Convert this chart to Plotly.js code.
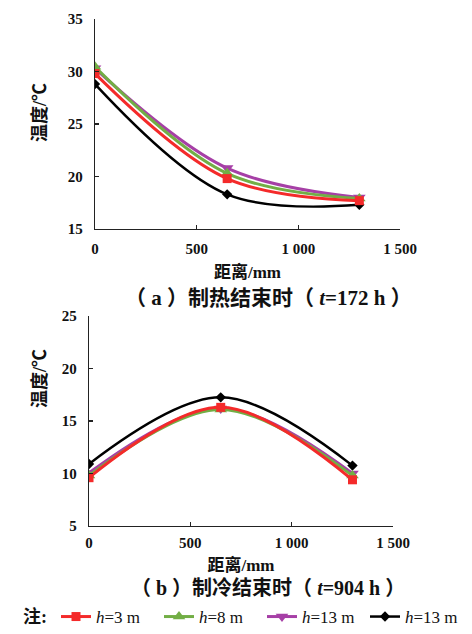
<!DOCTYPE html>
<html>
<head>
<meta charset="utf-8">
<script src="https://cdn.plot.ly/plotly-3.0.1.min.js"></script>
<style>html,body{margin:0;padding:0;background:#fff;}#chart{width:472px;height:634px;}</style>
</head>
<body>
<div id="chart"></div>
<script>
// Data
const distance = [0, 650, 1300];
const seriesNames = ['<i>h</i>=3 m', '<i>h</i>=8 m', '<i>h</i>=13 m', '<i>h</i>=13 m'];
const heatingH3 = [29.8, 19.8, 17.7];
const heatingH8 = [30.45, 20.3, 17.9];
const heatingH13a = [30.3, 20.8, 18.0];
const heatingH13b = [28.8, 18.3, 17.3];
const coolingH3 = [9.6, 16.3, 9.4];
const coolingH8 = [9.8, 16.1, 9.8];
const coolingH13a = [10.05, 16.2, 10.0];
const coolingH13b = [10.9, 17.25, 10.75];
const xTickVals = [0, 500, 1000, 1500];
const xTickText = ['0', '500', '1 000', '1 500'];
const yTopTicks = [15, 20, 25, 30, 35];
const yBotTicks = [5, 10, 15, 20, 25];

const serif = "Liberation Serif, Noto Sans CJK SC";
const colors = ['#f42a2a', '#72ae45', '#a63fa6', '#000000'];
const symbols = ['square', 'triangle-up', 'triangle-down', 'diamond'];
const msizes = [9, 11, 11, 8];
const lwidths = [3, 3, 3, 2.5];

const topData = [heatingH3, heatingH8, heatingH13a, heatingH13b];
const botData = [coolingH3, coolingH8, coolingH13a, coolingH13b];
// draw order: black, purple, green, red (red on top)
const drawOrder = [3, 2, 1, 0];
const traces = [];
drawOrder.forEach(i => {
  traces.push({
    x: distance, y: topData[i], xaxis: 'x', yaxis: 'y', type: 'scatter', mode: 'lines+markers',
    name: seriesNames[i], legendrank: i + 1, showlegend: true,
    line: {color: colors[i], width: lwidths[i], shape: 'spline', smoothing: 1},
    marker: {color: colors[i], symbol: symbols[i], size: msizes[i]}
  });
});
drawOrder.forEach(i => {
  traces.push({
    x: distance, y: botData[i], xaxis: 'x2', yaxis: 'y2', type: 'scatter', mode: 'lines+markers',
    name: seriesNames[i], showlegend: false,
    line: {color: colors[i], width: lwidths[i], shape: 'spline', smoothing: 1},
    marker: {color: colors[i], symbol: symbols[i], size: msizes[i]}
  });
});

const tickFont = {family: serif, size: 15, color: '#111', weight: 'bold'};
const titleFont = {family: serif, size: 17, color: '#111'};
function xax(domain, anchor, lstand, tstand) {
  return {domain: domain, anchor: anchor, range: [0, 1500], tickvals: xTickVals, ticktext: xTickText,
    ticks: 'inside', ticklen: 4, tickwidth: 1.2, tickcolor: '#222', showline: true, linecolor: '#222', linewidth: 1.3,
    showgrid: false, zeroline: false, tickfont: tickFont, ticklabelstandoff: lstand,
    title: {text: '<b>距离/mm</b>', font: titleFont, standoff: tstand}};
}
function yax(domain, anchor, ticks, range) {
  return {domain: domain, anchor: anchor, range: range, tickvals: ticks,
    ticks: 'inside', ticklen: 4, tickwidth: 1.2, tickcolor: '#222', showline: true, linecolor: '#222', linewidth: 1.3,
    showgrid: false, zeroline: false, tickfont: tickFont, ticklabelstandoff: 8};
}

const layout = {
  width: 472, height: 634,
  margin: {l: 0, r: 0, t: 0, b: 0, autoexpand: false},
  paper_bgcolor: '#ffffff', plot_bgcolor: '#ffffff',
  font: {family: serif, color: '#111'},
  xaxis: xax([95/472, 400/472], 'y', 6, 9),
  yaxis: yax([1 - 229/634, 1 - 19/634], 'x', yTopTicks, [15, 35]),
  xaxis2: xax([89/472, 393/472], 'y2', 3, 8),
  yaxis2: yax([1 - 526/634, 1 - 316/634], 'x2', yBotTicks, [5, 25]),
  showlegend: true,
  legend: {orientation: 'h', x: 56/472, xanchor: 'left', y: 1 - 617/634, yanchor: 'middle',
    font: {family: serif, size: 17, color: '#111'}, entrywidth: 58, entrywidthmode: 'pixels',
    itemwidth: 30, bgcolor: 'rgba(0,0,0,0)', tracegroupgap: 0},
  annotations: [
    {text: '<b>温度/℃</b>', xref: 'paper', yref: 'paper', x: 40/472, y: 1 - 113/634, textangle: -90,
      xanchor: 'center', yanchor: 'middle', showarrow: false, font: {family: serif, size: 18, color: '#111'}},
    {text: '<b>温度/℃</b>', xref: 'paper', yref: 'paper', x: 40/472, y: 1 - 379/634, textangle: -90,
      xanchor: 'center', yanchor: 'middle', showarrow: false, font: {family: serif, size: 18, color: '#111'}},
    {text: '<b>（ a ）制热结束时（ <i>t</i>=172 h ）</b>', xref: 'paper', yref: 'paper', x: 268/472, y: 1 - 298/634,
      xanchor: 'center', yanchor: 'middle', showarrow: false, font: {family: serif, size: 21, color: '#111'}},
    {text: '<b>（ b ）制冷结束时（ <i>t</i>=904 h ）</b>', xref: 'paper', yref: 'paper', x: 268/472, y: 1 - 588/634,
      xanchor: 'center', yanchor: 'middle', showarrow: false, font: {family: serif, size: 20, color: '#111'}},
    {text: '<b>注:</b>', xref: 'paper', yref: 'paper', x: 21/472, y: 1 - 617/634,
      xanchor: 'left', yanchor: 'middle', showarrow: false, font: {family: serif, size: 18, color: '#111'}}
  ]
};

Plotly.newPlot('chart', traces, layout, {displayModeBar: false, staticPlot: true});
</script>
</body>
</html>
